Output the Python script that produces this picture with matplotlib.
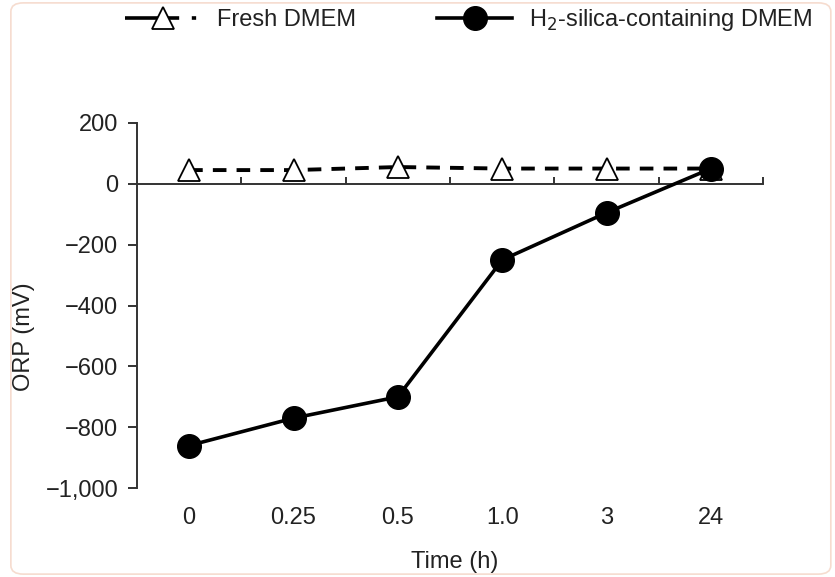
import matplotlib.pyplot as plt
from matplotlib.patches import FancyBboxPatch
from matplotlib.lines import Line2D
import matplotlib.transforms as mtransforms

plt.rcParams['font.family'] = ['Liberation Sans', 'DejaVu Sans']

times = ['0', '0.25', '0.5', '1.0', '3', '24']
fresh = [45, 45, 55, 50, 50, 50]
h2_silica = [-860, -770, -700, -250, -95, 50]
yticks = [200, 0, -200, -400, -600, -800, -1000]
ytick_labels = ['200', '0', '\u2212200', '\u2212400', '\u2212600', '\u2212800', '\u22121,000']

fs = 17
txt = '#222222'

fig = plt.figure(figsize=(8.35, 5.77), dpi=100)
ax = fig.add_axes([0.164, 0.154, 0.750, 0.633])

xs = list(range(len(times)))
ax.plot(xs, fresh, color='black', lw=2.8, ls=(0, (3.5, 2.6)), marker='^', ms=16,
        mfc='white', mec='black', mew=1.3, zorder=3)
ax.plot(xs, h2_silica, color='black', lw=2.6, marker='o', ms=17, zorder=4)

ax.set_xlim(-0.5, 5.5)
ax.set_ylim(-1000, 200)
ax.spines['top'].set_visible(False)
ax.spines['right'].set_visible(False)
ax.spines['bottom'].set_position(('data', 0))
for s in ['left', 'bottom']:
    ax.spines[s].set_linewidth(1.4)
    ax.spines[s].set_color('#333333')

ax.set_xticks([x + 0.5 for x in xs])
ax.set_xticklabels([])
ax.tick_params(axis='x', direction='in', length=5, width=1.4, color='#333333')
ax.set_yticks(yticks)
ax.set_yticklabels(ytick_labels)
ax.tick_params(axis='y', direction='out', length=6.5, width=1.4, color='#333333',
               pad=7, labelsize=fs, labelcolor=txt)

trans = mtransforms.blended_transform_factory(ax.transData, ax.transAxes)
for x, lab in zip(xs, times):
    ax.text(x, -0.082, lab, transform=trans, ha='center', va='center',
            fontsize=fs, color=txt)

ax.set_ylabel('ORP (mV)', fontsize=fs, color=txt)
ax.yaxis.set_label_coords(-0.162, 0.416)
ax.text(0.508, -0.203, 'Time (h)', transform=ax.transAxes, ha='center', va='center',
        fontsize=fs, color=txt)

# legend handles
h_fresh = Line2D([], [], color='black', lw=2.6, ls=(0, (15, 3.5, 1.2, 5)), marker='^',
                 ms=16, mfc='white', mec='black', mew=1.3)
h_h2 = Line2D([], [], color='black', lw=2.6, marker='o', ms=17)
fig.legend([h_fresh, h_h2], ['Fresh DMEM', 'H$_2$-silica-containing DMEM'],
           loc='center left', bbox_to_anchor=(0.150, 0.965), ncol=2, frameon=False,
           fontsize=fs, handlelength=3.2, handletextpad=0.7, columnspacing=3.4,
           borderpad=0, borderaxespad=0, labelcolor=txt)

border = FancyBboxPatch((0.013, 0.005), 0.982, 0.99, boxstyle='round,pad=0,rounding_size=0.015',
                        transform=fig.transFigure, fill=False, ec='#f6dccf', lw=1.2)
fig.patches.append(border)

fig.savefig('out.png', dpi=100)
